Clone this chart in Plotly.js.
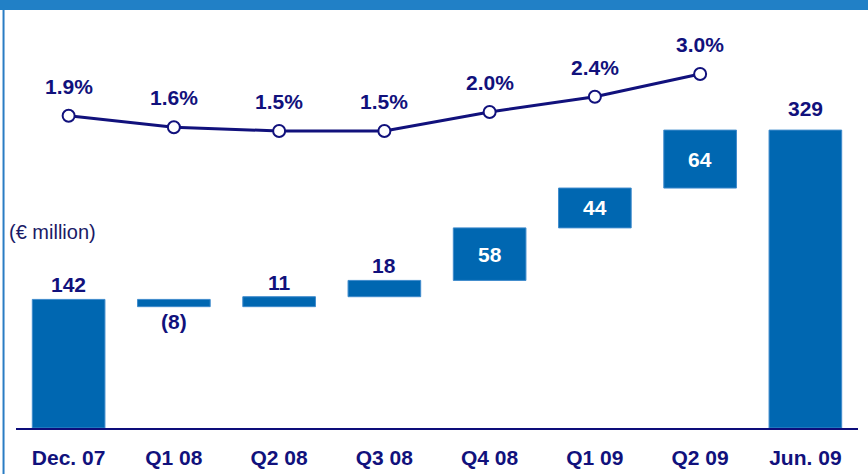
<!DOCTYPE html>
<html>
<head>
<meta charset="utf-8">
<script src="https://cdn.plot.ly/plotly-3.0.1.min.js"></script>
<style>
html, body { margin: 0; padding: 0; background: #ffffff; }
#chart { width: 868px; height: 474px; }
</style>
</head>
<body>
<div id="chart"></div>
<script>
// ---- data ----
var categories = ["Dec. 07", "Q1 08", "Q2 08", "Q3 08", "Q4 08", "Q1 09", "Q2 09", "Jun. 09"];
var measures   = ["absolute", "relative", "relative", "relative", "relative", "relative", "relative", "total"];
var values     = [142, -8, 11, 18, 58, 44, 64, 329];
var barLabels  = ["142", "(8)", "11", "18", "58", "44", "64", "329"];
var labelPlace = ["above", "below", "above", "above", "inside", "inside", "inside", "above"];

var pctCategories = ["Dec. 07", "Q1 08", "Q2 08", "Q3 08", "Q4 08", "Q1 09", "Q2 09"];
var pctValues     = [1.9, 1.6, 1.5, 1.5, 2.0, 2.4, 3.0];
var pctLabels     = ["1.9%", "1.6%", "1.5%", "1.5%", "2.0%", "2.4%", "3.0%"];

var unitLabel = "(€ million)";

// ---- styles ----
var NAVY = "#11117c";
var BAR  = "#0067b1";
var FONT = "Liberation Sans, Arial, sans-serif";
var FS = 21;

(function () {
  // compute waterfall bases from data
  var bases = [], heights = [], running = 0;
  for (var i = 0; i < values.length; i++) {
    if (measures[i] === "relative") { bases.push(running); heights.push(values[i]); running += values[i]; }
    else { bases.push(0); heights.push(values[i]); running = values[i]; }
  }

  var barTrace = {
    type: "bar",
    x: categories,
    y: heights,
    base: bases,
    marker: { color: BAR, line: { color: "#3f8bcc", width: 1 } },
    hoverinfo: "skip",
    yaxis: "y"
  };

  var lineTrace = {
    type: "scatter",
    mode: "lines+markers",
    x: pctCategories,
    y: pctValues,
    yaxis: "y2",
    line: { color: NAVY, width: 3 },
    marker: { size: 12, color: "#ffffff", line: { color: NAVY, width: 2 } },
    hoverinfo: "skip"
  };

  var annotations = [];
  for (var j = 0; j < categories.length; j++) {
    var barTop = bases[j] + Math.max(heights[j], 0);
    var barBottom = bases[j] + Math.min(heights[j], 0);
    var a = {
      x: categories[j], xref: "x", yref: "y",
      text: "<b>" + barLabels[j] + "</b>", showarrow: false,
      font: { family: FONT, size: FS, color: NAVY },
      xanchor: "center"
    };
    if (labelPlace[j] === "above") {
      a.y = barTop; a.yanchor = "bottom";
      a.yshift = (j === categories.length - 1) ? 8 : 1;
    } else if (labelPlace[j] === "below") {
      a.y = barBottom; a.yanchor = "top"; a.yshift = -1;
    } else {
      a.y = bases[j] + heights[j] / 2; a.yanchor = "middle";
      a.font = { family: FONT, size: FS, color: "#ffffff" };
    }
    annotations.push(a);
  }
  for (var k = 0; k < pctCategories.length; k++) {
    annotations.push({
      x: pctCategories[k], y: pctValues[k], xref: "x", yref: "y2",
      text: "<b>" + pctLabels[k] + "</b>", showarrow: false,
      font: { family: FONT, size: FS, color: NAVY },
      xanchor: "center", yanchor: "bottom", yshift: 16
    });
  }
  annotations.push({
    x: -0.011, y: 0.48, xref: "paper", yref: "paper",
    text: unitLabel, showarrow: false,
    font: { family: FONT, size: 20, color: "#1a1a66" },
    xanchor: "left", yanchor: "middle"
  });

  var layout = {
    width: 868, height: 474,
    margin: { l: 16, r: 10, t: 20, b: 46, pad: 0 },
    paper_bgcolor: "#ffffff",
    plot_bgcolor: "#ffffff",
    showlegend: false,
    bargap: 0.31,
    font: { family: FONT, color: NAVY },
    xaxis: {
      type: "category",
      range: [-0.5, 7.5],
      showgrid: false, zeroline: false,
      showline: true, linecolor: "#0d0d7a", linewidth: 2,
      ticks: "outside", ticklen: 10, tickcolor: "rgba(0,0,0,0)",
      tickvals: categories,
      ticktext: categories.map(function (c) { return "<b>" + c + "</b>"; }),
      tickfont: { family: FONT, size: FS, color: NAVY }
    },
    yaxis: {
      range: [0, 450.6],
      showticklabels: false, showgrid: false, zeroline: false, showline: false, ticks: ""
    },
    yaxis2: {
      range: [-6.316, 4.421],
      overlaying: "y", side: "right",
      showticklabels: false, showgrid: false, zeroline: false, showline: false, ticks: ""
    },
    annotations: annotations,
    shapes: [
      { type: "rect", xref: "paper", yref: "paper", x0: -0.03, x1: 1.03, y0: 1.0245, y1: 1.06,
        fillcolor: "#2180c6", line: { width: 0 }, layer: "above" },
      { type: "line", xref: "paper", yref: "paper", x0: -0.0148, x1: -0.0148, y0: 1.0245, y1: -0.12,
        line: { color: "#2a7cc4", width: 2 } }
    ]
  };

  Plotly.newPlot("chart", [barTrace, lineTrace], layout, { displayModeBar: false });
})();
</script>
</body>
</html>
